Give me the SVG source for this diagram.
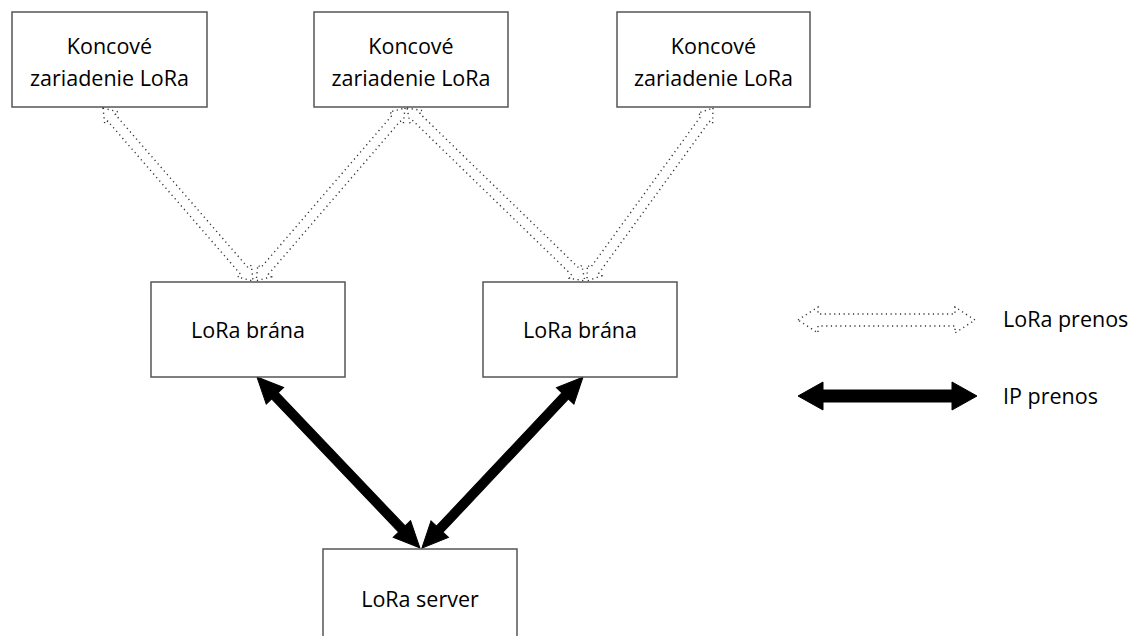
<svg xmlns="http://www.w3.org/2000/svg" width="1133" height="636" viewBox="0 0 1133 636">
<style>
.box{fill:#fff;stroke:#555;stroke-width:1.5}
.t{font-family:"Open Sans","Liberation Sans",sans-serif;font-size:21.5px;fill:#000;text-anchor:middle}
.lt{font-family:"Open Sans","Liberation Sans",sans-serif;font-size:21.5px;fill:#000}
.lora{fill:none;stroke:#333;stroke-width:1.4;stroke-dasharray:1.2 3.5}
.ip{fill:#000;stroke:#000;stroke-width:1}
</style>
<rect width="1133" height="636" fill="#fff"/>
<g id="connectors">
<path class="lora" transform="translate(103,108) rotate(49.07)" d="M0,0 L13,-9 L13,-5 L216,-5 L216,-9 L229,0 L216,9 L216,5 L13,5 L13,9 Z"/>
<path class="lora" transform="translate(405,108) rotate(130.74)" d="M0,0 L13,-9 L13,-5 L215,-5 L215,-9 L228,0 L215,9 L215,5 L13,5 L13,9 Z"/>
<path class="lora" transform="translate(407,108) rotate(44.18)" d="M0,0 L13,-9 L13,-5 L235,-5 L235,-9 L248,0 L235,9 L235,5 L13,5 L13,9 Z"/>
<path class="lora" transform="translate(713,108) rotate(126.07)" d="M0,0 L13,-9 L13,-5 L201,-5 L201,-9 L214,0 L201,9 L201,5 L13,5 L13,9 Z"/>
<path class="ip" transform="translate(257,377) rotate(46.37)" d="M0,0 L26,-12 L26,-4.5 L210,-4.5 L210,-12 L236,0 L210,12 L210,4.5 L26,4.5 L26,12 Z"/>
<path class="ip" transform="translate(583,377) rotate(133.27)" d="M0,0 L26,-12 L26,-4.5 L209,-4.5 L209,-12 L235,0 L209,12 L209,4.5 L26,4.5 L26,12 Z"/>
</g>
<g id="legend-lora">
<path class="lora" transform="translate(798,320)" d="M0,0 L20,-13 L20,-6 L157,-6 L157,-13 L177,0 L157,13 L157,6 L20,6 L20,13 Z"/>
<text class="lt" x="1003" y="327">LoRa prenos</text>
</g>
<g id="legend-ip">
<path class="ip" transform="translate(798,396)" d="M0,0 L25,-14 L25,-6 L154,-6 L154,-14 L179,0 L154,14 L154,6 L25,6 L25,14 Z"/>
<text class="lt" x="1003" y="404">IP prenos</text>
</g>
<g id="end1">
<rect class="box" x="12" y="12" width="195" height="95"/>
<text class="t" x="109.5" y="54">Koncové</text>
<text class="t" x="109.5" y="86">zariadenie LoRa</text>
</g>
<g id="end2">
<rect class="box" x="314" y="12" width="194" height="95"/>
<text class="t" x="411" y="54">Koncové</text>
<text class="t" x="411" y="86">zariadenie LoRa</text>
</g>
<g id="end3">
<rect class="box" x="617" y="12" width="193" height="95"/>
<text class="t" x="713.5" y="54">Koncové</text>
<text class="t" x="713.5" y="86">zariadenie LoRa</text>
</g>
<g id="gw1">
<rect class="box" x="151" y="282" width="194" height="95"/>
<text class="t" x="248" y="338">LoRa brána</text>
</g>
<g id="gw2">
<rect class="box" x="483" y="282" width="194" height="95"/>
<text class="t" x="580" y="338">LoRa brána</text>
</g>
<g id="server">
<rect class="box" x="323" y="549" width="194" height="95"/>
<text class="t" x="420" y="607">LoRa server</text>
</g>
</svg>
